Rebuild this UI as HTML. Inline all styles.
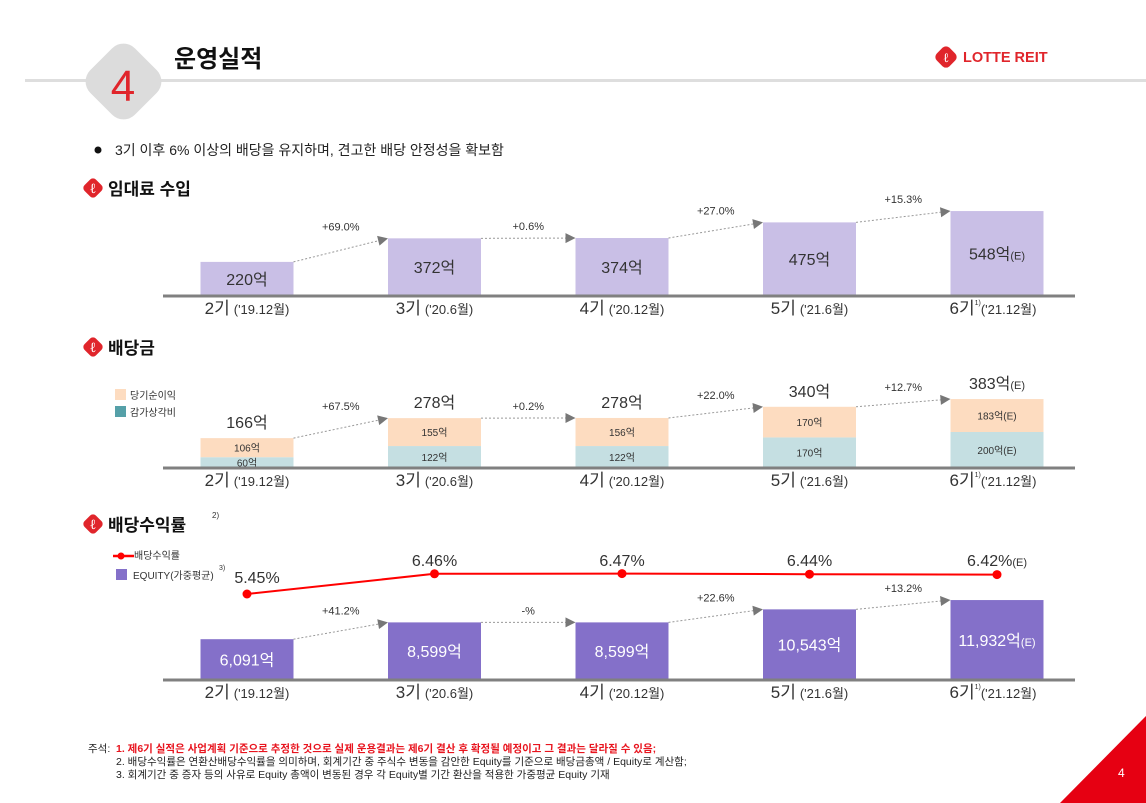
<!DOCTYPE html>
<html><head><meta charset="utf-8">
<style>
body{margin:0;background:#fff;}
svg{display:block;font-family:"Liberation Sans","Noto Sans CJK KR",sans-serif;}
</style></head>
<body>
<svg id="s" width="1146" height="803" viewBox="0 0 1146 803" xmlns="http://www.w3.org/2000/svg">
<rect x="25" y="79" width="1121" height="3" fill="#dedede"/>
<rect x="92" y="50" width="63" height="63" rx="16" transform="rotate(45 123.5 81.5)" fill="#dcdcdc"/>
<text x="123" y="101" text-anchor="middle" font-size="44" fill="#e0252b">4</text>
<text x="174" y="67" font-size="24" font-weight="bold" fill="#111">운영실적</text>
<g>
<rect x="937" y="48" width="18" height="18" rx="5" transform="rotate(45 946 57)" fill="#e0252b"/>
<text x="946" y="62" text-anchor="middle" font-size="13" fill="#fff" font-family="Liberation Serif">ℓ</text>
<text x="963" y="62" font-size="14.5" font-weight="bold" fill="#e0252b">LOTTE REIT</text>
</g>
<circle cx="98" cy="150" r="3.5" fill="#111"/>
<text x="115" y="155" font-size="14" fill="#222">3기 이후 6% 이상의 배당을 유지하며, 견고한 배당 안정성을 확보함</text>
<g id="charts"></g>
<g font-size="10.5" fill="#222">
<text x="88" y="752">주석:</text>
<text x="116" y="752" fill="#e8141e" font-weight="bold">1. 제6기 실적은 사업계획 기준으로 추정한 것으로 실제 운용결과는 제6기 결산 후 확정될 예정이고 그 결과는 달라질 수 있음;</text>
<text x="116" y="765">2. 배당수익률은 연환산배당수익률을 의미하며, 회계기간 중 주식수 변동을 감안한 Equity를 기준으로 배당금총액 / Equity로 계산함;</text>
<text x="116" y="778">3. 회계기간 중 증자 등의 사유로 Equity 총액이 변동된 경우 각 Equity별 기간 환산을 적용한 가중평균 Equity 기재</text>
</g>
<polygon points="1060,803 1146,803 1146,716" fill="#e60012"/>
<text x="1118" y="777" font-size="12" fill="#fff">4</text>
</svg>
<script>
const categories=["2기","3기","4기","5기","6기"];
const periods=["('19.12월)","('20.6월)","('20.12월)","('21.6월)","('21.12월)"];
const rentValues=[220,372,374,475,548];
const rentGrowth=["+69.0%","+0.6%","+27.0%","+15.3%"];
const netIncome=[106,155,156,170,183];
const depreciation=[60,122,122,170,200];
const dividendTotals=[166,278,278,340,383];
const divGrowth=["+67.5%","+0.2%","+22.0%","+12.7%"];
const yieldValues=[5.45,6.46,6.47,6.44,6.42];
const equityValues=[6091,8599,8599,10543,11932];
const equityGrowth=["+41.2%","-%","+22.6%","+13.2%"];

const NS="http://www.w3.org/2000/svg";
const G=document.getElementById('charts');
function el(t,a,txt,p){const e=document.createElementNS(NS,t);for(const k in a)e.setAttribute(k,a[k]);if(txt!=null)e.textContent=txt;(p||G).appendChild(e);return e;}
const cx=i=>247+i*187.5, BW=93;
const fmt=n=>n.toLocaleString('en-US');

function heading(y,title,sup){
  const g=el('g',{});
  
  
  el('rect',{x:85,y:y-8,width:16,height:16,rx:4,transform:`rotate(45 93 ${y})`,fill:'#e0252b'},null,g);
  el('text',{x:93,y:y+5,'text-anchor':'middle','font-size':14,fill:'#fff','font-family':'Liberation Serif'},'ℓ',g);
  el('text',{x:108,y:y+7,'font-size':17,'font-weight':'bold',fill:'#111'},title,g);
  if(sup) el('text',{x:212,y:y-6,'font-size':8,fill:'#333'},sup,g);
}
function axis(y,name){
  const l=el('line',{x1:163,x2:1075,y1:y,y2:y,stroke:'#808080','stroke-width':3});
  
  
  categories.forEach((c,i)=>{
    const t=el('text',{x:cx(i)-(i==4?4:0),y:y+18,'text-anchor':'middle','font-size':17,fill:'#333'});
    
    
    el('tspan',{},c,t);
    if(i==4){el('tspan',{'font-size':7,dy:-9},'1)',t);el('tspan',{'font-size':13,dy:9},periods[i],t);}
    else el('tspan',{'font-size':13,dx:4},periods[i],t);
  });
}
function arrows(tops,labels){
  for(let i=0;i<4;i++){
    const x1=cx(i)+BW/2,y1=tops[i],x2=cx(i+1)-BW/2,y2=tops[i+1];
    const l=el('line',{x1:x1,y1:y1,x2:x2-8,y2:y2+(y1-y2)*8/(x2-x1),stroke:'#999','stroke-width':1,'stroke-dasharray':'2,2'});
    
    
    const ang=Math.atan2(y2-y1,x2-x1)*180/Math.PI;
    el('polygon',{points:`${x2},${y2} ${x2-10},${y2-5} ${x2-10},${y2+5}`,fill:'#777',transform:`rotate(${ang} ${x2} ${y2})`});
    const t=el('text',{x:(x1+x2)/2,y:Math.min(y1,y2)-8,'text-anchor':'middle','font-size':11,fill:'#333'},labels[i]);
    
    
  }
}

// Chart 1
heading(188,'임대료 수입');
const b1=296,s1=0.155;
const tops1=rentValues.map(v=>b1-v*s1);
rentValues.forEach((v,i)=>{
  const r=el('rect',{x:cx(i)-BW/2,y:tops1[i],width:BW,height:v*s1,fill:'#c9bfe6'});
  
  
  const t=el('text',{x:cx(i),y:(tops1[i]+b1)/2+6,'text-anchor':'middle','font-size':16,fill:'#333'},v+'억');
  if(i==4) el('tspan',{'font-size':11},'(E)',t);
  
  
});
arrows(tops1,rentGrowth);
axis(b1,'rent-axis');

// Chart 2
heading(347,'배당금');
const lg=el('g',{});


el('rect',{x:115,y:389,width:11,height:11,fill:'#fddcc0'},null,lg);
el('text',{x:130,y:399,'font-size':10,fill:'#333'},'당기순이익',lg);
el('rect',{x:115,y:406,width:11,height:11,fill:'#55a0a8'},null,lg);
el('text',{x:130,y:416,'font-size':10,fill:'#333'},'감가상각비',lg);
const b2=468,s2=0.18;
const tops2=[];
netIncome.forEach((n,i)=>{
  const d=depreciation[i],tot=n+d;
  const yd=b2-d*s2,yt=b2-tot*s2;tops2.push(yt);
  const r1=el('rect',{x:cx(i)-BW/2,y:yd,width:BW,height:d*s2,fill:'#c5dfe2'});
  
  
  const r2=el('rect',{x:cx(i)-BW/2,y:yt,width:BW,height:n*s2,fill:'#fddcc0'});
  
  
  const e=i==4?'(E)':'';
  el('text',{x:cx(i),y:(yd+b2)/2+4,'text-anchor':'middle','font-size':10,fill:'#333'},d+'억'+e);
  el('text',{x:cx(i),y:(yt+yd)/2+4,'text-anchor':'middle','font-size':10,fill:'#333'},n+'억'+e);
  const t=el('text',{x:cx(i),y:yt-10,'text-anchor':'middle','font-size':16,fill:'#333'},dividendTotals[i]+'억');
  if(i==4) el('tspan',{'font-size':11},'(E)',t);
  
  
});
arrows(tops2,divGrowth);
axis(b2,'dividend-axis');

// Chart 3
heading(524,'배당수익률','2)');
const lg3=el('g',{});


el('line',{x1:113,x2:134,y1:556,y2:556,stroke:'#f00','stroke-width':2.5},null,lg3);
el('circle',{cx:121,cy:556,r:3.5,fill:'#f00'},null,lg3);
el('text',{x:134,y:559,'font-size':10,fill:'#333'},'배당수익률',lg3);
el('rect',{x:116,y:569,width:11,height:11,fill:'#8470c9'},null,lg3);
el('text',{x:133,y:579,'font-size':10,fill:'#333'},'EQUITY(가중평균)',lg3);
el('text',{x:219,y:570,'font-size':7,fill:'#333'},'3)',lg3);
const b3=680,s3=0.0067;
const tops3=equityValues.map(v=>b3-v*s3);
equityValues.forEach((v,i)=>{
  const r=el('rect',{x:cx(i)-BW/2,y:tops3[i],width:BW,height:v*s3,fill:'#8470c9'});
  
  
  const t=el('text',{x:cx(i),y:(tops3[i]+b3)/2+6,'text-anchor':'middle','font-size':16,fill:'#fff'},fmt(v)+'억');
  if(i==4) el('tspan',{'font-size':11},'(E)',t);
  
  
});
arrows(tops3,equityGrowth);
axis(b3,'equity-axis');
const yY=v=>594-(v-5.45)*20;
const pts=yieldValues.map((v,i)=>cx(i)+','+yY(v)).join(' ');
const pl=el('polyline',{points:pts,fill:'none',stroke:'#f00','stroke-width':2});


yieldValues.forEach((v,i)=>{
  const c=el('circle',{cx:cx(i),cy:yY(v),r:4.5,fill:'#f00'});
  
  
  const t=el('text',{x:cx(i)+(i==0?10:0),y:i==0?583:566,'text-anchor':'middle','font-size':16,fill:'#333'},v.toFixed(2)+'%');
  if(i==4) el('tspan',{'font-size':11},'(E)',t);
  
  
});
</script>
</body></html>
